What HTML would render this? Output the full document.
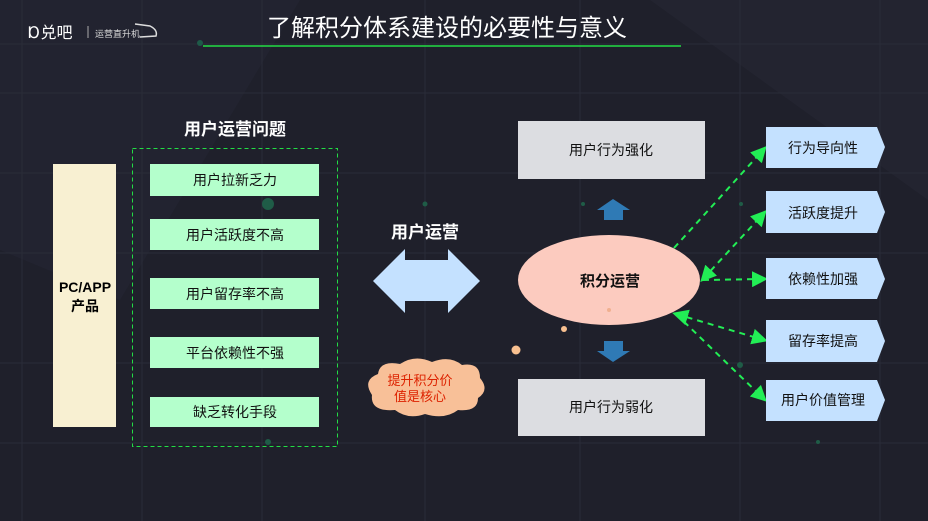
<!DOCTYPE html>
<html><head><meta charset="utf-8"><style>
body{margin:0;width:928px;height:521px;overflow:hidden;background:#1f202b;font-family:"Liberation Sans","Noto Sans CJK SC",sans-serif}
</style></head><body>
<svg width="928" height="521" xmlns="http://www.w3.org/2000/svg" style="position:absolute;left:0;top:0">
<defs>
<marker id="a" markerWidth="8" markerHeight="8" refX="6" refY="4" orient="auto-start-reverse"><path d="M0,0L8,4L0,8z" fill="#22ee55"/></marker>
</defs>
<rect width="928" height="521" fill="#1f202b"/>
<polygon points="0,0 300,0 120,300 0,250" fill="#222330"/>
<polygon points="650,0 928,0 928,200" fill="#232430"/>
<g stroke="#2a2c38" stroke-width="1">
<line x1="0" y1="44" x2="928" y2="44"/><line x1="0" y1="93" x2="928" y2="93"/><line x1="0" y1="173" x2="928" y2="173"/><line x1="0" y1="253" x2="928" y2="253"/><line x1="0" y1="363" x2="928" y2="363"/><line x1="0" y1="443" x2="928" y2="443"/>
<line x1="22" y1="0" x2="22" y2="521"/><line x1="142" y1="0" x2="142" y2="521"/><line x1="262" y1="0" x2="262" y2="521"/><line x1="425" y1="0" x2="425" y2="521"/><line x1="580" y1="0" x2="580" y2="521"/><line x1="740" y1="0" x2="740" y2="521"/><line x1="880" y1="0" x2="880" y2="521"/>
</g>
<text x="28" y="38" fill="#fff" font-size="16">Ɒ兑吧</text>
<line x1="88" y1="26" x2="88" y2="38" stroke="#aaa"/>
<text x="95" y="37" fill="#ddd" font-size="9">运营直升机</text>
<path d="M135,24 L150,26 Q158,30 156,36 L140,37" stroke="#ddd" fill="none" stroke-width="1.5"/>
<text x="447" y="36" fill="#fff" font-size="24" text-anchor="middle">了解积分体系建设的必要性与意义</text>
<line x1="203" y1="46" x2="681" y2="46" stroke="#22dd44" stroke-width="1.5"/>
<circle cx="200" cy="43" r="3" fill="#1e5a48"/>

<text x="235" y="135" fill="#fff" font-size="17" font-weight="bold" text-anchor="middle">用户运营问题</text>
<rect x="53" y="164" width="63" height="263" fill="#f8f0d2"/>
<text x="85" y="292" font-size="14" font-weight="bold" text-anchor="middle" fill="#000">PC/APP</text>
<text x="85" y="311" font-size="14" font-weight="bold" text-anchor="middle" fill="#000">产品</text>
<rect x="132.5" y="148.5" width="205" height="298" fill="none" stroke="#22dd44" stroke-dasharray="4,3"/>
<g fill="#b4ffcc">
<rect x="150" y="164" width="169" height="32"/><rect x="150" y="219" width="169" height="31"/><rect x="150" y="278" width="169" height="31"/><rect x="150" y="337" width="169" height="31"/><rect x="150" y="397" width="169" height="30"/>
</g>
<g font-size="14" fill="#111" text-anchor="middle">
<text x="235" y="185">用户拉新乏力</text><text x="235" y="240">用户活跃度不高</text><text x="235" y="299">用户留存率不高</text><text x="235" y="358">平台依赖性不强</text><text x="235" y="417">缺乏转化手段</text>
</g>
<circle cx="268" cy="204" r="6" fill="#1f5c47"/>
<circle cx="268" cy="442" r="3" fill="#1f5c47"/>
<circle cx="425" cy="204" r="2.5" fill="#1f5c47"/>

<text x="425" y="238" fill="#fff" font-size="17" font-weight="bold" text-anchor="middle">用户运营</text>
<polygon points="373,281 405,249 405,260 448,260 448,249 480,281 448,313 448,301 405,301 405,313" fill="#c4e1ff"/>
<path d="M372,395 Q362,380 378,374 Q380,360 400,364 Q415,354 432,362 Q450,355 462,365 Q480,362 480,378 Q490,390 478,398 Q478,412 458,410 Q445,420 425,414 Q408,420 395,410 Q370,412 372,395z" fill="#f8c098"/>
<text x="420" y="385" fill="#dd2200" font-size="13" text-anchor="middle">提升积分价</text>
<text x="420" y="401" fill="#dd2200" font-size="13" text-anchor="middle">值是核心</text>

<rect x="518" y="121" width="187" height="58" fill="#dcdde1"/>
<rect x="518" y="379" width="187" height="57" fill="#dcdde1"/>
<text x="611" y="155" font-size="14" text-anchor="middle" fill="#111">用户行为强化</text>
<text x="611" y="412" font-size="14" text-anchor="middle" fill="#111">用户行为弱化</text>
<polygon points="597,210 613,199 630,210 623,210 623,220 604,220 604,210" fill="#2f7ab5"/>
<polygon points="604,341 623,341 623,351 630,351 613,362 597,351 604,351" fill="#2f7ab5"/>
<circle cx="583" cy="204" r="2" fill="#1f5c47"/>
<ellipse cx="609" cy="280" rx="91" ry="45" fill="#fccbbf"/>
<text x="610" y="286" font-size="15" font-weight="bold" text-anchor="middle" fill="#111">积分运营</text>
<circle cx="609" cy="310" r="2" fill="#f0b090"/>
<circle cx="564" cy="329" r="3" fill="#f8c090"/>
<circle cx="516" cy="350" r="4.5" fill="#f8c090"/>
<circle cx="741" cy="204" r="2" fill="#1f5c47"/>
<circle cx="740" cy="365" r="3" fill="#1f5c47"/>
<circle cx="818" cy="442" r="2" fill="#1f5c47"/>

<g stroke="#22ee55" stroke-width="2" stroke-dasharray="6,5" fill="none">
<line x1="674" y1="248" x2="764" y2="149" marker-end="url(#a)"/>
<line x1="703" y1="279" x2="764" y2="213" marker-start="url(#a)" marker-end="url(#a)"/>
<line x1="703" y1="280" x2="764" y2="279" marker-end="url(#a)"/>
<line x1="676" y1="314" x2="764" y2="340" marker-start="url(#a)" marker-end="url(#a)"/>
<line x1="676" y1="314" x2="764" y2="399" marker-end="url(#a)"/>
</g>
<g fill="#c4e1ff">
<polygon points="766,127 877,127 885,147 877,168 766,168"/>
<polygon points="766,191 877,191 885,212 877,233 766,233"/>
<polygon points="766,258 877,258 885,279 877,299 766,299"/>
<polygon points="766,320 877,320 885,341 877,362 766,362"/>
<polygon points="766,380 877,380 885,400 877,421 766,421"/>
</g>
<g font-size="14" fill="#111" text-anchor="middle">
<text x="823" y="153">行为导向性</text><text x="823" y="218">活跃度提升</text><text x="823" y="284">依赖性加强</text><text x="823" y="346">留存率提高</text><text x="823" y="405">用户价值管理</text>
</g>
</svg>
</body></html>
